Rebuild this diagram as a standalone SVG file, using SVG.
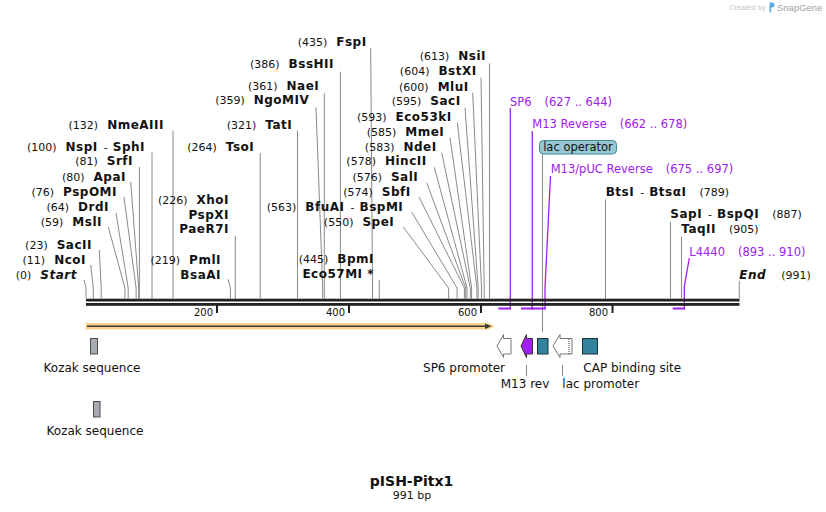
<svg xmlns="http://www.w3.org/2000/svg" width="826" height="512" viewBox="0 0 826 512">
<style>
text{font-family:"DejaVu Sans",Verdana,sans-serif;font-size:11px;fill:#111}
.e{text-anchor:end}
.b{font-size:12px;font-weight:bold;letter-spacing:0.5px}
.i{font-style:italic}
.p{fill:#a020f0;font-size:11.5px}
.l{font-size:12px}
.t{font-size:10px}
.ln{stroke:#8a8a8a;stroke-width:1;fill:none}
.pl{stroke:#a020f0;stroke-width:1.3;fill:none}
.bar{fill:#a020f0}
.tick{stroke:#222;stroke-width:2}
.teal{fill:#31849b;stroke:#1d2f36;stroke-width:1}
.wf{fill:#fff;stroke:#777;stroke-width:1}
.kz{fill:#a7abb2;stroke:#4a4a4a;stroke-width:1}
</style>
<rect width="826" height="512" fill="#fff"/>

<g id="watermark">
<text x="729" y="9.5" style="font-family:'Liberation Sans',Arial,sans-serif;font-size:7.5px;fill:#c6c6c6">Created by</text>
<path d="M769.5,2.5 h2.5 a2.2,2.2 0 0 1 0,5 h-0.8 v5 h-1.7 z" fill="#5aaee6"/>
<text x="777" y="10.5" style="font-family:'Liberation Sans',Arial,sans-serif;font-size:9.5px;fill:#a3a3a3">SnapGene</text>
</g>

<g id="connectors">
<path class="ln" d="M84,280 L86,288 V298.5"/>
<path class="ln" d="M90.7,265 L93.3,288 V298.5"/>
<path class="ln" d="M99.3,250 L101.2,288 V298.5"/>
<path class="ln" d="M108.3,227 L124.9,288 V298.5"/>
<path class="ln" d="M116,213 L128.2,288 V298.5"/>
<path class="ln" d="M124,197 L136.1,288 V298.5"/>
<path class="ln" d="M130.7,182 L138.7,288 V298.5"/>
<path class="ln" d="M139.4,167 V298.5"/>
<path class="ln" d="M152,152.5 V298.5"/>
<path class="ln" d="M173,130.7 V298.5"/>
<path class="ln" d="M235.3,236 V298.5"/>
<path class="ln" d="M228,279.3 L230.4,288 V298.5"/>
<path class="ln" d="M260.2,153 V298.5"/>
<path class="ln" d="M297.5,130.7 V298.5"/>
<path class="ln" d="M316,107.3 L322.7,288 V298.5"/>
<path class="ln" d="M324.3,93.3 V298.5"/>
<path class="ln" d="M340.4,71.7 V298.5"/>
<path class="ln" d="M370.7,48.3 L372.5,288 V298.5"/>
<path class="ln" d="M379.3,280 V298.5"/>
<path class="ln" d="M403.3,227 L448.6,288 V298.5"/>
<path class="ln" d="M411.7,212 L457.1,288 V298.5"/>
<path class="ln" d="M419,197 L464.4,288 V298.5"/>
<path class="ln" d="M426.7,182.7 L465.7,288 V298.5"/>
<path class="ln" d="M434.3,167.3 L467,288 V298.5"/>
<path class="ln" d="M441.7,152.7 L470.3,288 V298.5"/>
<path class="ln" d="M450,137.7 L471.6,288 V298.5"/>
<path class="ln" d="M457.3,122.7 L476.9,288 V298.5"/>
<path class="ln" d="M465,107.7 L478.2,288 V298.5"/>
<path class="ln" d="M472.7,92.7 L481.5,288 V298.5"/>
<path class="ln" d="M481,77.7 L484.2,288 V298.5"/>
<path class="ln" d="M489.5,63.3 V298.5"/>
<path class="ln" d="M605.5,199.3 V298.5"/>
<path class="ln" d="M670.5,221.7 V298.5"/>
<path class="ln" d="M681.5,236.7 V298.5"/>
<path class="ln" d="M739.3,280.7 V298.5"/>
<path class="ln" d="M542.5,154 V332"/>
<path class="ln" d="M526.5,365 V376"/>
<path class="ln" d="M562.5,365 V376"/>
<path class="pl" d="M510.3,108 V309.5"/>
<path class="pl" d="M532.3,131 V309.5"/>
<path class="pl" d="M550.5,176 L545,288 V309.5"/>
<path class="pl" d="M689.3,258 L684.3,287 V309.5"/>
</g>

<g id="backbone">
<rect x="86" y="298.7" width="653.5" height="2.8" fill="#222"/>
<rect x="86" y="303" width="653.5" height="2.8" fill="#222"/>
<line class="tick" x1="217" y1="305" x2="217" y2="313"/>
<line class="tick" x1="349" y1="305" x2="349" y2="313"/>
<line class="tick" x1="481" y1="305" x2="481" y2="313"/>
<line class="tick" x1="612.5" y1="305" x2="612.5" y2="313"/>
<text class="t e" x="213" y="316">200</text>
<text class="t e" x="345" y="316">400</text>
<text class="t e" x="477" y="316">600</text>
<text class="t e" x="608" y="316">800</text>
</g>

<g id="e-Start"><text class="e" x="77" y="279">(0)<tspan class="b i" dx="9">Start</tspan></text></g>
<g id="e-NcoI"><text class="e" x="86" y="264.3">(11)<tspan class="b" dx="9">NcoI</tspan></text></g>
<g id="e-SacII"><text class="e" x="92" y="249">(23)<tspan class="b" dx="9">SacII</tspan></text></g>
<g id="e-MslI"><text class="e" x="102" y="225.7">(59)<tspan class="b" dx="9">MslI</tspan></text></g>
<g id="e-DrdI"><text class="e" x="109" y="211">(64)<tspan class="b" dx="9">DrdI</tspan></text></g>
<g id="e-PspOMI"><text class="e" x="117" y="195.7">(76)<tspan class="b" dx="9">PspOMI</tspan></text></g>
<g id="e-ApaI"><text class="e" x="126" y="180.7">(80)<tspan class="b" dx="9">ApaI</tspan></text></g>
<g id="e-SrfI"><text class="e" x="133" y="165">(81)<tspan class="b" dx="9">SrfI</tspan></text></g>
<g id="e-NspI"><text class="e" x="145" y="150.7">(100)<tspan class="b" dx="9">NspI</tspan><tspan dx="6">-</tspan><tspan class="b" dx="5">SphI</tspan></text></g>
<g id="e-NmeAIII"><text class="e" x="164" y="129">(132)<tspan class="b" dx="9">NmeAIII</tspan></text></g>
<g id="e-XhoI"><text class="e" x="229" y="204.3">(226)<tspan class="b" dx="9">XhoI</tspan></text><text class="b e" x="229" y="219">PspXI</text><text class="b e" x="229" y="233.3">PaeR7I</text></g>
<g id="e-PmlI"><text class="e" x="221" y="264.3">(219)<tspan class="b" dx="9">PmlI</tspan></text><text class="b e" x="221" y="279">BsaAI</text></g>
<g id="e-TsoI"><text class="e" x="254.3" y="150.7">(264)<tspan class="b" dx="9">TsoI</tspan></text></g>
<g id="e-TatI"><text class="e" x="292.3" y="129">(321)<tspan class="b" dx="9">TatI</tspan></text></g>
<g id="e-NgoMIV"><text class="e" x="309.3" y="104.3">(359)<tspan class="b" dx="9">NgoMIV</tspan></text></g>
<g id="e-NaeI"><text class="e" x="319.3" y="90">(361)<tspan class="b" dx="9">NaeI</tspan></text></g>
<g id="e-BssHII"><text class="e" x="334" y="68.3">(386)<tspan class="b" dx="9">BssHII</tspan></text></g>
<g id="e-FspI"><text class="e" x="366.7" y="46">(435)<tspan class="b" dx="9">FspI</tspan></text></g>
<g id="e-BpmI"><text class="e" x="374" y="263.3">(445)<tspan class="b" dx="9">BpmI</tspan></text><text class="b e" x="374" y="278.3">Eco57MI *</text></g>
<g id="e-SpeI"><text class="e" x="394.3" y="225.7">(550)<tspan class="b" dx="9">SpeI</tspan></text></g>
<g id="e-BfuAI"><text class="e" x="403.3" y="210.7">(563)<tspan class="b" dx="9">BfuAI</tspan><tspan dx="6">-</tspan><tspan class="b" dx="5">BspMI</tspan></text></g>
<g id="e-SbfI"><text class="e" x="410.7" y="195.7">(574)<tspan class="b" dx="9">SbfI</tspan></text></g>
<g id="e-SalI"><text class="e" x="418.3" y="180.7">(576)<tspan class="b" dx="9">SalI</tspan></text></g>
<g id="e-HincII"><text class="e" x="426.7" y="165">(578)<tspan class="b" dx="9">HincII</tspan></text></g>
<g id="e-NdeI"><text class="e" x="436.7" y="150.7">(583)<tspan class="b" dx="9">NdeI</tspan></text></g>
<g id="e-MmeI"><text class="e" x="444.3" y="136">(585)<tspan class="b" dx="9">MmeI</tspan></text></g>
<g id="e-Eco53kI"><text class="e" x="451.7" y="120.7">(593)<tspan class="b" dx="9">Eco53kI</tspan></text></g>
<g id="e-SacI"><text class="e" x="460.7" y="105">(595)<tspan class="b" dx="9">SacI</tspan></text></g>
<g id="e-MluI"><text class="e" x="468.7" y="90.7">(600)<tspan class="b" dx="9">MluI</tspan></text></g>
<g id="e-BstXI"><text class="e" x="476.7" y="75">(604)<tspan class="b" dx="9">BstXI</tspan></text></g>
<g id="e-NsiI"><text class="e" x="486" y="60">(613)<tspan class="b" dx="9">NsiI</tspan></text></g>

<g id="e-BtsI"><text x="605.7" y="195.7"><tspan class="b">BtsI</tspan><tspan dx="6">-</tspan><tspan class="b" dx="5">BtsαI</tspan><tspan dx="13">(789)</tspan></text></g>
<g id="e-SapI"><text x="670.3" y="218.3"><tspan class="b">SapI</tspan><tspan dx="6">-</tspan><tspan class="b" dx="5">BspQI</tspan><tspan dx="13">(887)</tspan></text></g>
<g id="e-TaqII"><text x="681.3" y="233.3"><tspan class="b">TaqII</tspan><tspan dx="13">(905)</tspan></text></g>
<g id="e-End"><text x="739.3" y="279"><tspan class="b i">End</tspan><tspan dx="15">(991)</tspan></text></g>

<g id="primer-SP6"><rect class="bar" x="498.3" y="307.5" width="12" height="2"/><text class="p" x="510" y="105.7">SP6<tspan dx="13">(627 .. 644)</tspan></text></g>
<g id="primer-M13Reverse"><rect class="bar" x="521" y="307.5" width="11.5" height="2"/><text class="p" x="532.3" y="128.3">M13 Reverse<tspan dx="13">(662 .. 678)</tspan></text></g>
<g id="primer-M13pUC"><rect class="bar" x="531" y="307.5" width="14.5" height="2"/><text class="p" x="550.7" y="173.3">M13/pUC Reverse<tspan dx="13">(675 .. 697)</tspan></text></g>
<g id="primer-L4440"><rect class="bar" x="672.7" y="307.5" width="12" height="2"/><text class="p" x="689.3" y="255.7">L4440<tspan dx="13">(893 .. 910)</tspan></text></g>
<g id="lac-operator-label"><rect x="539.5" y="140.5" width="77" height="13.5" rx="4" fill="#97c7d3" stroke="#3f8a9d" stroke-width="1"/><text x="578" y="151.3" text-anchor="middle" style="font-size:11.5px">lac operator</text></g>

<g id="orf">
<path d="M86,323.3 H488 L494,326.2 L488,329.1 H86 Z" fill="#fdd48c" stroke="#f6c46e" stroke-width="0.6"/>
<line x1="87" y1="326.2" x2="487" y2="326.2" stroke="#3a3a3a" stroke-width="1.6"/>
<polygon points="485,323.4 491.5,326.2 485,329" fill="#3a3a3a"/>
</g>

<g id="kozak1"><rect class="kz" x="90.5" y="338.5" width="7" height="15.5"/><text class="l" x="92" y="371.7" text-anchor="middle">Kozak sequence</text></g>
<g id="kozak2"><rect class="kz" x="93.5" y="401.5" width="6.5" height="15.5"/><text class="l" x="95" y="435" text-anchor="middle">Kozak sequence</text></g>

<g id="sp6-promoter"><polygon class="wf" points="497,346 503.5,334.5 503.5,338.5 511,338.5 511,354 503.5,354 503.5,357.5"/><text class="l e" x="505" y="371.7">SP6 promoter</text></g>
<g id="m13-rev"><polygon points="521,346 526.5,334.5 526.5,338.5 532.5,338.5 532.5,354 526.5,354 526.5,357.5" fill="#a020f0" stroke="#333" stroke-width="1"/><text class="l" x="500.7" y="387.7">M13 rev</text></g>
<g id="lac-operator"><rect class="teal" x="537.5" y="338.5" width="10.5" height="15.5"/></g>
<g id="lac-promoter"><path class="wf" d="M572,338.5 H560 V334.5 L553,346 L560,357.5 V354 H572"/><line x1="569" y1="339" x2="569" y2="354" stroke="#333" stroke-width="1" stroke-dasharray="1,1"/><line x1="572" y1="338.5" x2="572" y2="354" stroke="#555" stroke-width="0.8"/><text class="l" x="562.3" y="387.7">lac promoter</text></g>
<g id="cap-site"><rect class="teal" x="582.5" y="338.5" width="15" height="15.5"/><text class="l" x="583.3" y="371.7">CAP binding site</text></g>

<g id="title">
<text x="411.5" y="486" text-anchor="middle" style="font-size:14px;font-weight:bold">pISH-Pitx1</text>
<text x="412" y="499" text-anchor="middle">991 bp</text>
</g>
</svg>
